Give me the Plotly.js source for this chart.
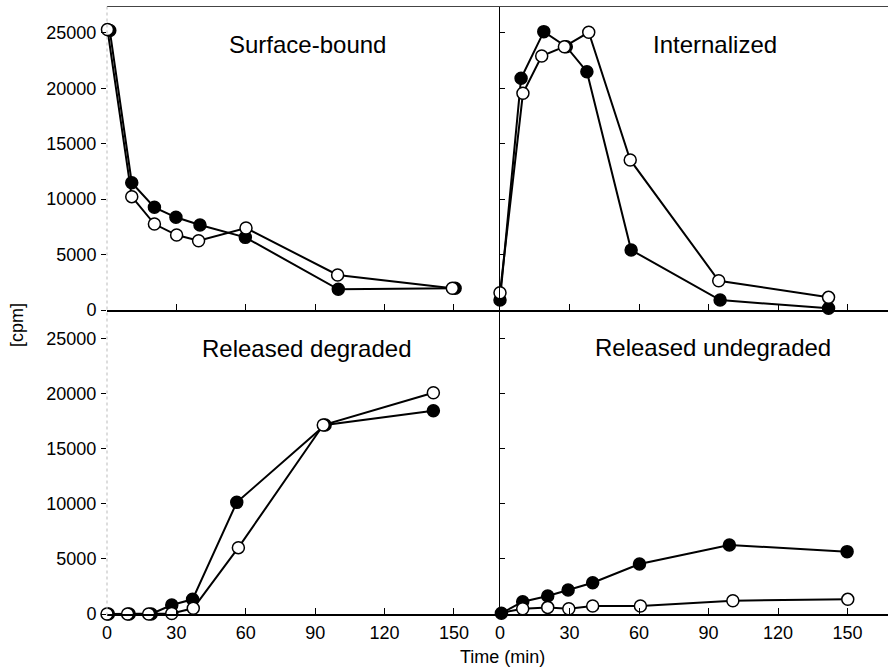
<!DOCTYPE html>
<html>
<head>
<meta charset="utf-8">
<script src="https://cdn.plot.ly/plotly-3.0.1.min.js"></script>
<style>html,body{margin:0;padding:0;background:#fff}#chart{width:888px;height:670px}</style>
</head>
<body>
<div id="chart"></div>
<script>
// ---- Data (time in min, values in cpm) ----
const panelTitles = ["Surface-bound", "Internalized", "Released degraded", "Released undegraded"];
const xTickVals = [0, 30, 60, 90, 120, 150];
const xTickText = ["0", "30", "60", "90", "120", "150"];
const yTickVals = [0, 5000, 10000, 15000, 20000, 25000];
const yTickText = ["0", "5000", "10000", "15000", "20000", "25000"];

// Surface-bound
const sbTimeFilled = [1.2, 10.7, 20.5, 29.8, 40.2, 59.8, 100, 150.5];
const sbFilled     = [25200, 11480, 9260, 8360, 7660, 6550, 1870, 1960];
const sbTimeOpen   = [0.2, 10.7, 20.5, 30.1, 39.6, 60.1, 99.7, 149.3];
const sbOpen       = [25300, 10220, 7750, 6760, 6250, 7390, 3160, 1960];

// Internalized
const inTimeFilled = [0, 9.1, 18.9, 28.6, 37.5, 56.6, 95, 141.8];
const inFilled     = [900, 20890, 25100, 23740, 21490, 5410, 900, 150];
const inTimeOpen   = [0, 9.9, 18, 27.8, 38.3, 56.2, 94.4, 141.8];
const inOpen       = [1560, 19540, 22900, 23740, 25040, 13530, 2640, 1140];

// Released degraded
const rdTimeFilled = [0.6, 9.6, 19.1, 28, 37, 56.1, 94.3, 141.1];
const rdFilled     = [0, 0, 0, 820, 1330, 10130, 17150, 18450];
const rdTimeOpen   = [0, 8.9, 18, 28, 37.3, 56.8, 93.5, 141.1];
const rdOpen       = [0, 0, 0, 50, 520, 6020, 17150, 20080];

// Released undegraded
const ruTimeFilled = [0.6, 9.8, 20.6, 29.4, 40, 60.2, 99, 149.8];
const ruFilled     = [60, 1120, 1630, 2180, 2840, 4540, 6260, 5660];
const ruTimeOpen   = [-0.5, 9.8, 20.6, 29.7, 40, 60.6, 100.5, 150.1];
const ruOpen       = [60, 480, 600, 480, 730, 730, 1210, 1330];

// ---- Layout geometry (pixels -> paper) ----
const W = 888, H = 670;
const px = v => v / W;
const py = v => 1 - v / H;
const FONT = "Liberation Sans, Arial, Helvetica, sans-serif";

function lineTrace(x, y, xa, ya, filled) {
  return {
    x: x, y: y, xaxis: xa, yaxis: ya, type: "scatter", mode: "lines+markers",
    cliponaxis: false, showlegend: false, hoverinfo: "skip",
    line: {color: "#000", width: 2},
    marker: {symbol: "circle", size: 12, color: filled ? "#000" : "#fff",
             line: {color: "#000", width: 1.5}}
  };
}

const traces = [
  lineTrace(sbTimeFilled, sbFilled, "x", "y", true),
  lineTrace(sbTimeOpen, sbOpen, "x", "y", false),
  lineTrace(inTimeFilled, inFilled, "x2", "y2", true),
  lineTrace(inTimeOpen, inOpen, "x2", "y2", false),
  lineTrace(rdTimeFilled, rdFilled, "x3", "y3", true),
  lineTrace(rdTimeOpen, rdOpen, "x3", "y3", false),
  lineTrace(ruTimeFilled, ruFilled, "x4", "y4", true),
  lineTrace(ruTimeOpen, ruOpen, "x4", "y4", false)
];

const leftDom = [px(107), px(500)];
const rightDom = [px(500), 1];
const topDom = [py(310), py(6)];
const botDom = [py(614), py(310)];
const leftXRange = [0, 393 / 2.313];
const rightXRange = [0, 388 / 2.317];
const topYRange = [0, 304 / 0.01109];
const botYRange = [0, 304 / 0.01102];

function xAxis(dom, range, anchor, labels) {
  return {
    domain: dom, range: range, anchor: anchor, showgrid: false, zeroline: false,
    showline: true, linecolor: "#000", linewidth: 1.5,
    ticks: "inside", ticklen: 6, tickwidth: 1, tickcolor: "#000",
    tickmode: "array",
    tickvals: labels ? xTickVals : xTickVals.slice(1),
    ticktext: labels ? xTickText : xTickText.slice(1),
    showticklabels: labels, ticklabelstandoff: 2,
    tickfont: {family: FONT, size: 18, color: "#000"}, fixedrange: true
  };
}
function yAxis(dom, range, anchor, labels) {
  return {
    domain: dom, range: range, anchor: anchor, showgrid: false, zeroline: false,
    showline: !labels, linecolor: "#000", linewidth: 1.5,
    ticks: labels ? "outside" : "inside", ticklen: 5, tickwidth: 1, tickcolor: "#000",
    tickmode: "array",
    tickvals: labels ? yTickVals : yTickVals.slice(1),
    ticktext: labels ? yTickText : yTickText.slice(1),
    showticklabels: labels, ticklabelstandoff: 1,
    tickfont: {family: FONT, size: 18, color: "#000"}, fixedrange: true
  };
}

const annFont = {family: FONT, size: 24, color: "#000"};
const layout = {
  width: W, height: H,
  margin: {l: 0, r: 0, t: 0, b: 0},
  paper_bgcolor: "#fff", plot_bgcolor: "rgba(0,0,0,0)",
  font: {family: FONT, color: "#000"},
  showlegend: false,
  xaxis: xAxis(leftDom, leftXRange, "y", false),
  yaxis: yAxis(topDom, topYRange, "x", true),
  xaxis2: xAxis(rightDom, rightXRange, "y2", false),
  yaxis2: yAxis(topDom, topYRange, "x2", false),
  xaxis3: xAxis(leftDom, leftXRange, "y3", true),
  yaxis3: yAxis(botDom, botYRange, "x3", true),
  xaxis4: xAxis(rightDom, rightXRange, "y4", true),
  yaxis4: yAxis(botDom, botYRange, "x4", false),
  shapes: [
    {type: "line", xref: "paper", yref: "paper", x0: px(107), x1: 1, y0: py(6.5), y1: py(6.5),
     line: {color: "#444", width: 1}},
    {type: "line", xref: "paper", yref: "paper", x0: px(107), x1: px(107), y0: py(6.5), y1: py(616),
     line: {color: "#bbb", width: 1, dash: "dot"}},
    {type: "line", xref: "paper", yref: "paper", x0: px(500), x1: px(500), y0: py(614), y1: py(618),
     line: {color: "#000", width: 1.5}}
  ],
  annotations: [
    {text: panelTitles[0], xref: "paper", yref: "paper", x: px(307), y: py(45), showarrow: false, font: annFont, xanchor: "center", yanchor: "middle"},
    {text: panelTitles[1], xref: "paper", yref: "paper", x: px(715), y: py(45), showarrow: false, font: annFont, xanchor: "center", yanchor: "middle"},
    {text: panelTitles[2], xref: "paper", yref: "paper", x: px(307), y: py(348), showarrow: false, font: annFont, xanchor: "center", yanchor: "middle"},
    {text: panelTitles[3], xref: "paper", yref: "paper", x: px(713), y: py(347), showarrow: false, font: annFont, xanchor: "center", yanchor: "middle"},
    {text: "[cpm]", xref: "paper", yref: "paper", x: px(16.5), y: py(325.5), showarrow: false, textangle: -90,
     font: {family: FONT, size: 18, color: "#000"}, xanchor: "center", yanchor: "middle"},
    {text: "Time (min)", xref: "paper", yref: "paper", x: px(502), y: py(657), showarrow: false,
     font: {family: FONT, size: 18, color: "#000"}, xanchor: "center", yanchor: "middle"}
  ]
};

Plotly.newPlot("chart", traces, layout, {displayModeBar: false, staticPlot: true});
</script>
</body>
</html>
